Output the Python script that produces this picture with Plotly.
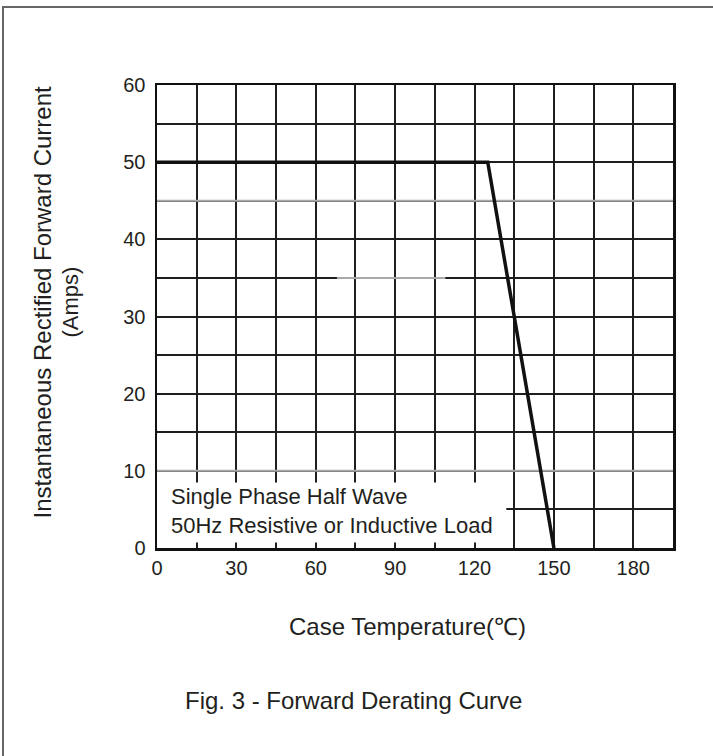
import plotly.graph_objects as go

# Data
temp_c = [0, 125, 150]
current_a = [50, 50, 0]
x_ticks = [0, 30, 60, 90, 120, 150, 180]
y_ticks = [0, 10, 20, 30, 40, 50, 60]

W, H = 713, 756
L, T = 157, 85
PW, PH = 516, 463
R = W - L - PW
B = H - T - PH
TXT = "#231f20"
GRID = "#1e1e1e"
FONT = "Liberation Sans, Arial, sans-serif"

fig = go.Figure()
fig.add_trace(go.Scatter(x=temp_c, y=current_a, mode="lines",
                         line=dict(color="#111111", width=3.5),
                         hoverinfo="skip", showlegend=False))

shapes = []
gray = "#a8a8a8"
for (x0, x1, yv) in [(0, 195, 45), (68, 109, 35), (0, 195, 10)]:
    shapes.append(dict(type="line", xref="x", yref="y", x0=x0, x1=x1, y0=yv, y1=yv,
                       line=dict(color=gray, width=2), layer="between"))
shapes.append(dict(type="rect", xref="x", yref="y", x0=0, x1=132, y0=0.7, y1=8.5,
                   fillcolor="white", line=dict(width=0), layer="between"))
shapes.append(dict(type="rect", xref="paper", yref="paper",
                   x0=(3 - L) / PW, x1=2, y0=-1, y1=(T + PH - 7) / PH,
                   line=dict(color="#666666", width=2), fillcolor="rgba(0,0,0,0)", layer="below"))

annotations = [
    dict(text="Single Phase Half Wave<br>50Hz Resistive or Inductive Load",
         xref="x", yref="y", x=4.6, y=4.8, xanchor="left", yanchor="middle",
         align="left", showarrow=False, font=dict(size=22, color=TXT, family=FONT)),
    dict(text="Instantaneous Rectified Forward Current", xref="paper", yref="paper",
         x=0, y=0.5, xanchor="center", yanchor="middle", xshift=-115, yshift=14,
         textangle=-90, showarrow=False, font=dict(size=24, color=TXT, family=FONT)),
    dict(text="(Amps)", xref="paper", yref="paper",
         x=0, y=0.5, xanchor="center", yanchor="middle", xshift=-87, yshift=14,
         textangle=-90, showarrow=False, font=dict(size=22, color=TXT, family=FONT)),
    dict(text="Case Temperature(℃)", xref="paper", yref="paper",
         x=0.5, y=0, xanchor="center", yanchor="middle", xshift=-8, yshift=-78,
         showarrow=False, font=dict(size=24, color=TXT, family=FONT)),
    dict(text="Fig. 3 - Forward Derating Curve", xref="paper", yref="paper",
         x=0.5, y=0, xanchor="center", yanchor="middle", xshift=-62, yshift=-152,
         showarrow=False, font=dict(size=24, color=TXT, family=FONT)),
]

fig.update_layout(
    width=W, height=H, margin=dict(l=L, r=R, t=T, b=B, pad=0),
    paper_bgcolor="white", plot_bgcolor="white",
    font=dict(family=FONT, color=TXT, size=20),
    shapes=shapes, annotations=annotations, showlegend=False,
)
fig.update_xaxes(range=[0, 195], tickmode="array", tickvals=x_ticks,
                 ticktext=[str(v) for v in x_ticks], ticks="",
                 showgrid=True, gridcolor=GRID, gridwidth=2,
                 minor=dict(tickmode="linear", tick0=0, dtick=15, showgrid=True,
                            gridcolor=GRID, gridwidth=2, ticks=""),
                 showline=True, linecolor="#111111", linewidth=2.5, mirror=True,
                 zeroline=False, tickfont=dict(size=20, color=TXT), fixedrange=True)
fig.update_yaxes(range=[0, 60], tickmode="array", tickvals=y_ticks,
                 ticktext=[str(v) for v in y_ticks], ticks="", ticklabelstandoff=5,
                 showgrid=True, gridcolor=GRID, gridwidth=2,
                 minor=dict(tickmode="linear", tick0=0, dtick=5, showgrid=True,
                            gridcolor=GRID, gridwidth=2, ticks=""),
                 showline=True, linecolor="#111111", linewidth=2.5, mirror=True,
                 zeroline=False, tickfont=dict(size=20, color=TXT), fixedrange=True)

fig.write_html("out.html", config={"displayModeBar": False, "staticPlot": True},
               post_script="document.body.style.margin='0';document.body.style.overflow='hidden';")
